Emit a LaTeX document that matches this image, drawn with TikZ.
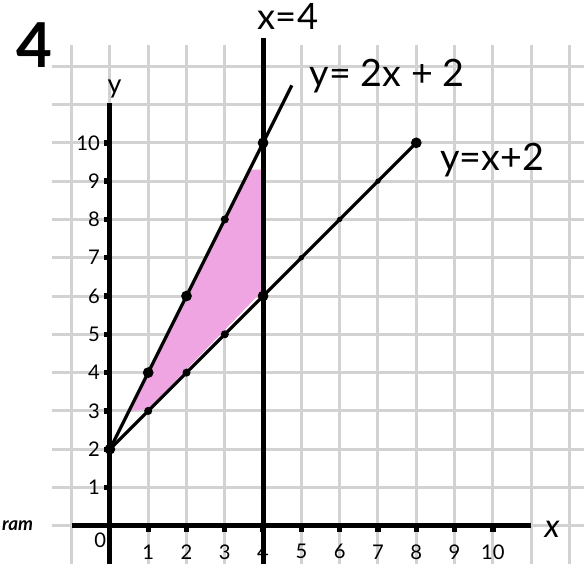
\documentclass[tikz,border=0pt]{standalone}
\usepackage{fontspec}
\setmainfont{Lato}
\definecolor{shadepink}{RGB}{238,165,226}

\begin{document}
\begin{tikzpicture}[x=1cm, y=1cm,
    gridline/.style={line width=2.2pt, gray!35},
    axisline/.style={line width=3.6pt, black},
    graphline/.style={line width=2.4pt, black},
    tickmark/.style={line width=4pt, black},
    ticklabel/.style={font=\fontsize{15}{17}\selectfont},
    handlabel/.style={font=\fontsize{28}{30}\selectfont, anchor=west},
    bigdot/.style={circle, fill=black, inner sep=0pt, minimum size=8pt},
    middot/.style={circle, fill=black, inner sep=0pt, minimum size=6pt},
    smalldot/.style={circle, fill=black, inner sep=0pt, minimum size=4pt}]

  \useasboundingbox (-2.87,-0.99) rectangle (12.38,13.73);

  % --- grid paper ---
  \foreach \k in {0,...,12}
    \draw[gridline] (-1.5,\k) -- (12.38,\k);
  \foreach \k in {-1,...,12}
    \draw[gridline] (\k,-0.99) -- (\k,12.55);

  % --- shaded region ---
  \fill[shadepink] (0.55,3.0) -- (3.65,9.3) -- (3.95,9.3) -- (3.95,6.1)
    -- (1.0,3.05) -- cycle;

  % --- axes ---
  \draw[axisline] (0,-0.99) -- (0,11.05);
  \node[font=\fontsize{20}{22}\selectfont] (ylab) at (0.12,11.4) {y};
  \draw[axisline] (-1,0) -- (11,0);
  \node[font=\itshape\fontsize{24}{26}\selectfont] (xlab) at (11.55,-0.1) {x};
  \node[ticklabel] (origin) at (-0.25,-0.37) {0};

  % ticks and numbers
  \foreach \k in {1,...,10} {
    \draw[tickmark] (-0.16,\k) -- (0,\k);
    \node[ticklabel, left] (ty\k) at (-0.14,\k) {\k};
    \draw[tickmark] (\k,0) -- (\k,-0.16);
    \node[ticklabel] (tx\k) at (\k,-0.68) {\k};
  }

  % --- line x = 4 ---
  \draw[axisline] (4,-0.99) -- (4,12.74);
  \node[font=\fontsize{27}{30}\selectfont] (lblv) at (4.65,13.3) {x=4};

  % --- line y = 2x + 2 ---
  \draw[graphline] (0,2) -- (4.75,11.5);
  \node[handlabel] (lblA) at (5.1,11.75) {y= 2x + 2};

  % --- line y = x + 2 ---
  \draw[graphline] (0,2) -- (8,10);
  \node[handlabel] (lblB) at (8.5,9.55) {y=x+2};

  % --- plotted points ---
  \foreach \p in {(0,2),(1,4),(2,6),(4,10),(4,6),(8,10)}
    \node[bigdot] at \p {};
  \foreach \p in {(3,8),(1,3),(2,4),(3,5)}
    \node[middot] at \p {};
  \foreach \p in {(5,7),(6,8),(7,9)}
    \node[smalldot] at \p {};

  % --- question number and margin note ---
  \node[font=\bfseries\fontsize{46}{50}\selectfont] (qnum) at (-1.98,12.55) {4};
  \node[anchor=east, font=\bfseries\itshape\fontsize{14}{16}\selectfont] (note) at (-1.88,0.0) {ram};

\end{tikzpicture}
\end{document}
